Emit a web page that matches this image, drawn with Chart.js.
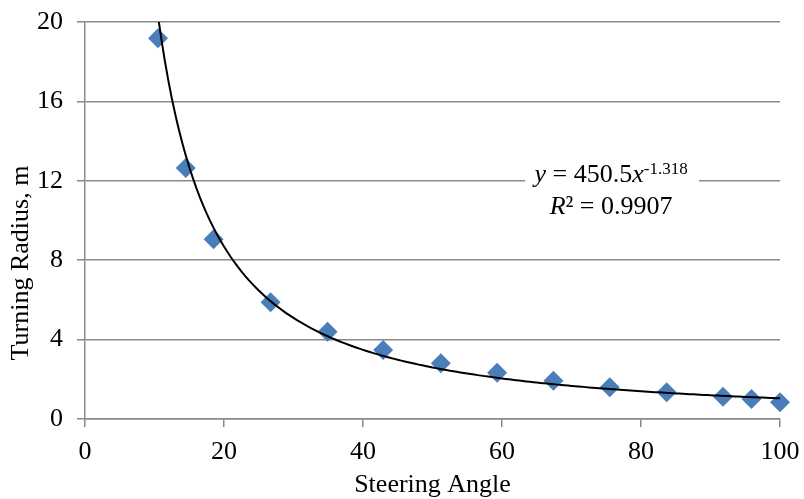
<!DOCTYPE html>
<html>
<head>
<meta charset="utf-8">
<title>Turning Radius vs Steering Angle</title>
<script src="https://cdn.jsdelivr.net/npm/chart.js@4.4.0/dist/chart.umd.min.js"></script>
<style>
  html, body { margin: 0; padding: 0; background: #fff; overflow: hidden; }
  #wrap { width: 804px; height: 510px; }
</style>
</head>
<body>
<div id="wrap"><canvas id="radius-chart" width="804" height="510"></canvas></div>
<script>
// measured steering angle (deg) and turning radius (m)
const steeringAngle = [10.5, 14.5, 18.5, 26.7, 34.9, 42.9, 51.2, 59.3, 67.4, 75.5, 83.7, 91.8, 95.9, 100];
const turningRadius = [19.18, 12.64, 9.06, 5.88, 4.40, 3.48, 2.81, 2.33, 1.93, 1.60, 1.35, 1.12, 1.01, 0.84];

// power trendline y = a * x^b
const trendA = 450.5;
const trendB = -1.318;
const trendR2 = '0.9907';

const xTicks = [0, 20, 40, 60, 80, 100];
const yTicks = [0, 4, 8, 12, 16, 20];

const FONT = '"Liberation Serif", "Times New Roman", serif';
const GRID = '#8a8a8a';

window.addEventListener('load', function() {
  const points = steeringAngle.map((x, i) => ({ x: x, y: turningRadius[i] }));

  const trendPoints = [];
  for (let x = 10; x <= 100; x += 0.5) {
    trendPoints.push({ x: x, y: trendA * Math.pow(x, trendB) });
  }

  // rotated y title, centred on the whole figure height
  const yTitlePlugin = {
    id: 'yTitle',
    afterDraw(chart) {
      const ctx = chart.ctx;
      ctx.save();
      ctx.translate(21, 263);
      ctx.rotate(-Math.PI / 2);
      ctx.font = '26px ' + FONT;
      ctx.fillStyle = '#000';
      ctx.textAlign = 'center';
      ctx.textBaseline = 'middle';
      ctx.fillText('Turning Radius, m', 0, 0);
      ctx.restore();
    }
  };

  // trendline equation box
  const equationPlugin = {
    id: 'equation',
    afterDraw(chart) {
      const ctx = chart.ctx;
      const cx = chart.scales.x.getPixelForValue(75.7);
      const base1 = chart.scales.y.getPixelForValue(12) + 1;
      const base2 = base1 + 32;
      const main = '26px ' + FONT;
      const ital = 'italic 26px ' + FONT;
      const sup = '17px ' + FONT;

      const line1 = [
        { t: 'y', f: ital, dy: 0 },
        { t: ' = ' + trendA, f: main, dy: 0 },
        { t: 'x', f: ital, dy: 0 },
        { t: String(trendB), f: sup, dy: -8 }
      ];
      const line2 = [
        { t: 'R', f: ital, dy: 0 },
        { t: '\u00B2 = ' + trendR2, f: main, dy: 0 }
      ];

      ctx.save();
      ctx.fillStyle = '#fff';
      ctx.fillRect(cx - 86, base1 - 22, 174, 62);
      ctx.fillStyle = '#000';
      ctx.textBaseline = 'alphabetic';
      ctx.textAlign = 'left';
      [[line1, base1], [line2, base2]].forEach(([parts, base]) => {
        let w = 0;
        parts.forEach(p => { ctx.font = p.f; p.w = ctx.measureText(p.t).width; w += p.w; });
        let x = cx - w / 2;
        parts.forEach(p => {
          ctx.font = p.f;
          ctx.fillText(p.t, x, base + p.dy);
          x += p.w;
        });
      });
      ctx.restore();
    }
  };

  const ctx = document.getElementById('radius-chart').getContext('2d');
  new Chart(ctx, {
    type: 'scatter',
    data: {
      datasets: [
        {
          label: 'Power trend',
          type: 'line',
          data: trendPoints,
          borderColor: '#000',
          borderWidth: 2,
          pointRadius: 0,
          fill: false,
          tension: 0,
          order: 0
        },
        {
          label: 'Turning radius',
          data: points,
          pointStyle: 'rectRot',
          pointRadius: 10,
          pointBackgroundColor: '#4a7ebb',
          pointBorderColor: '#4a7ebb',
          pointBorderWidth: 0,
          clip: false,
          order: 1
        }
      ]
    },
    options: {
      responsive: false,
      animation: false,
      layout: { padding: { left: 0, right: 24, top: 22, bottom: 0 } },
      plugins: {
        legend: { display: false },
        tooltip: { enabled: false }
      },
      scales: {
        x: {
          type: 'linear',
          min: 0,
          max: 100,
          afterBuildTicks: (scale) => { scale.ticks = xTicks.map(v => ({ value: v })); },
          afterFit: (scale) => {
            scale.height = 510 - 419;
            scale.paddingLeft = 0;
            scale.paddingRight = 0;
          },
          ticks: { color: '#000', font: { family: FONT, size: 26 }, padding: 10, maxRotation: 0 },
          grid: { drawOnChartArea: false, drawTicks: true, tickLength: 8, color: GRID, lineWidth: 1.5 },
          border: { display: true, color: GRID, width: 1.5 },
          title: {
            display: true,
            text: 'Steering Angle',
            color: '#000',
            font: { family: FONT, size: 26, lineHeight: 1.2 },
            padding: { top: 0, bottom: 9 }
          }
        },
        y: {
          type: 'linear',
          min: 0,
          max: 20,
          afterBuildTicks: (scale) => { scale.ticks = yTicks.map(v => ({ value: v })); },
          afterFit: (scale) => {
            scale.width = 85;
            scale.paddingTop = 0;
            scale.paddingBottom = 0;
          },
          ticks: { color: '#000', font: { family: FONT, size: 26 }, padding: 14 },
          grid: { drawTicks: true, tickLength: 8, color: GRID, lineWidth: 1.5 },
          border: { display: true, color: GRID, width: 1.5 }
        }
      }
    },
    plugins: [yTitlePlugin, equationPlugin]
  });
});
</script>
</body>
</html>
